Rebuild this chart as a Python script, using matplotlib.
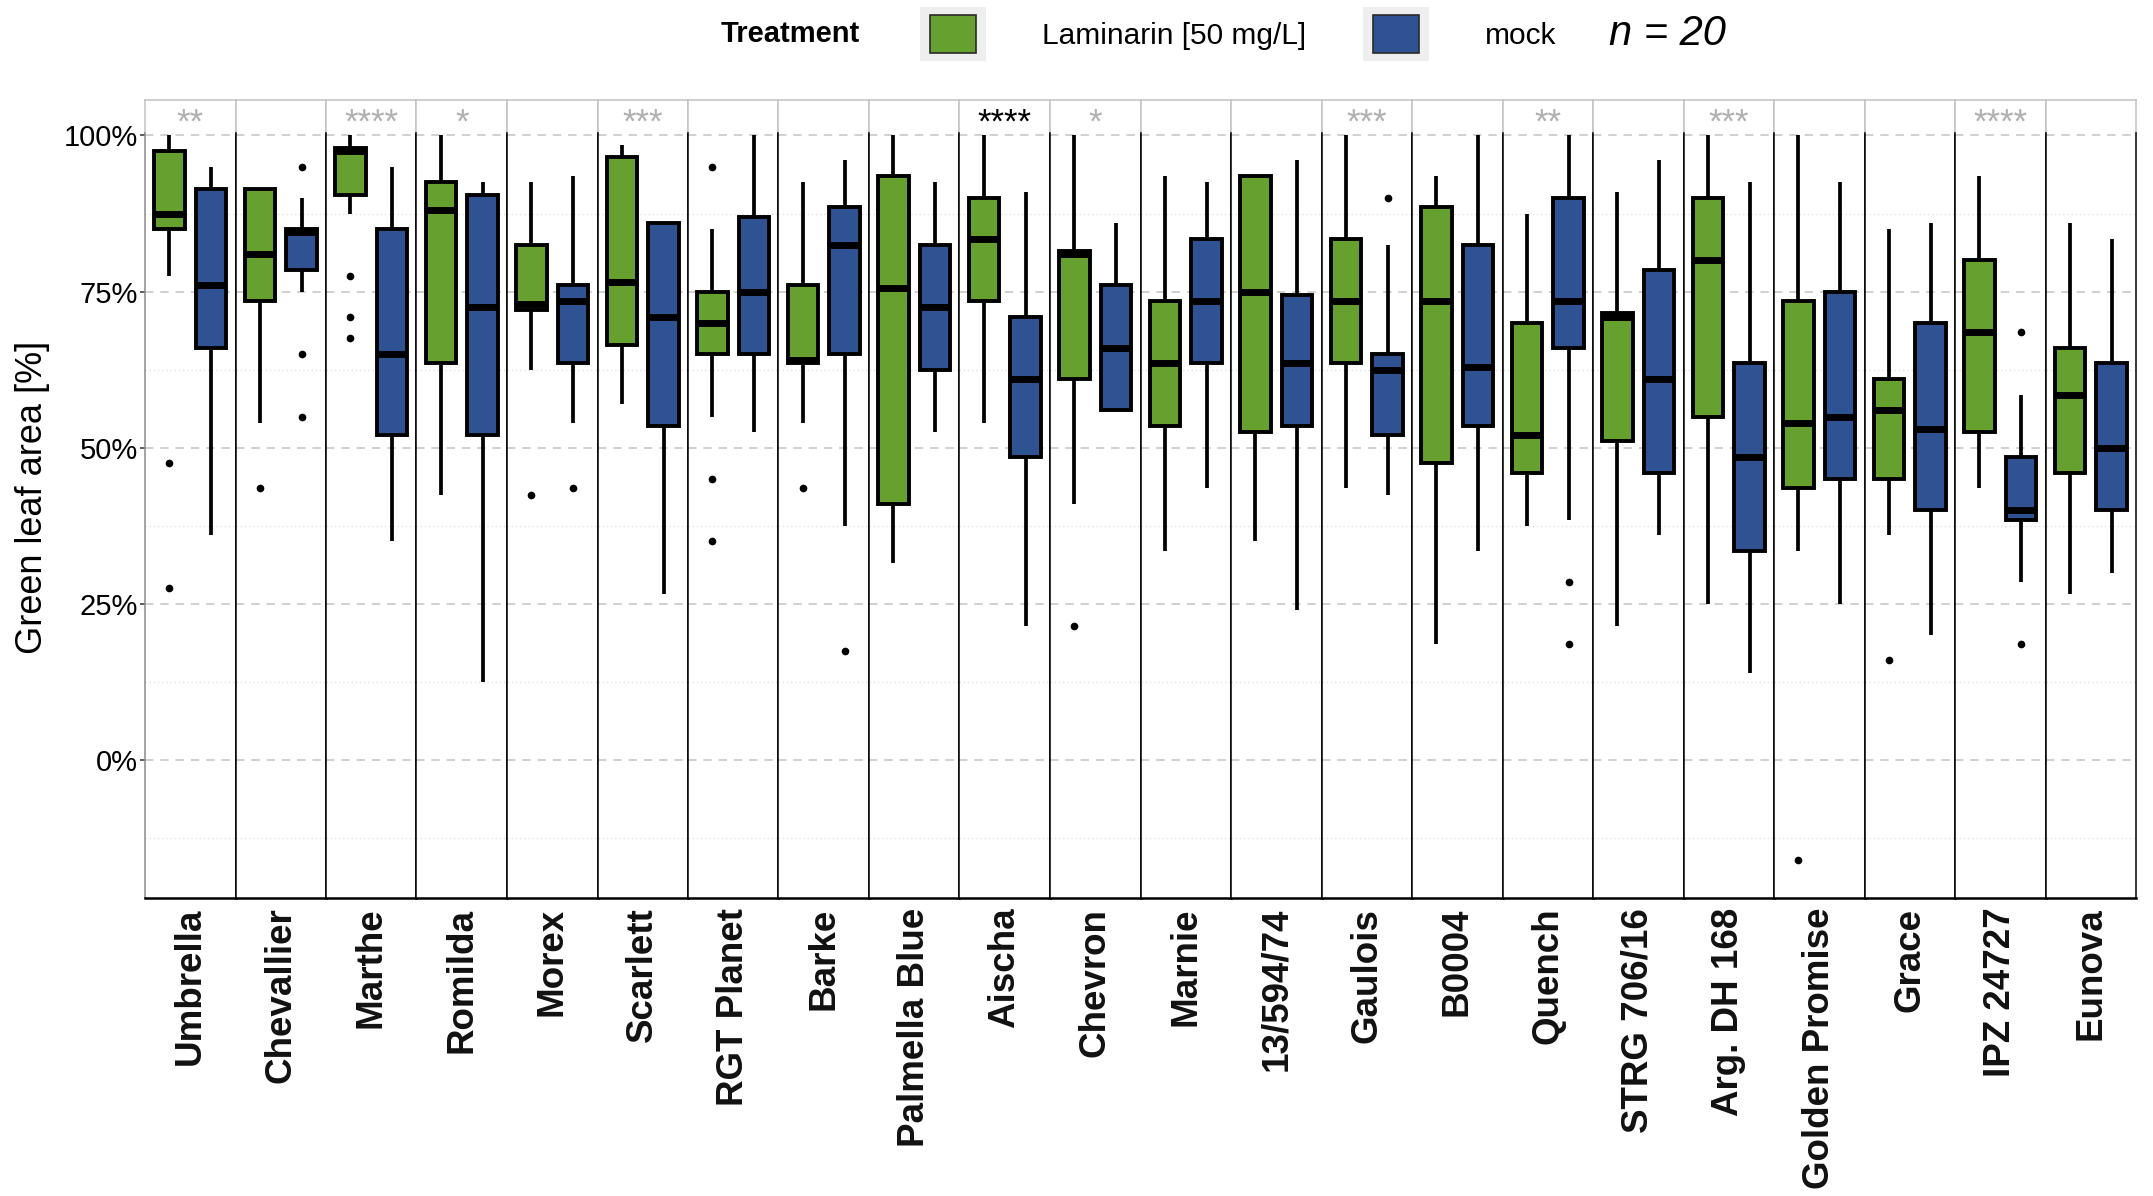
import matplotlib.pyplot as plt
from matplotlib.patches import Patch, Rectangle

plt.rcParams['font.family'] = ['Liberation Sans', 'DejaVu Sans']

cultivars = ['Umbrella', 'Chevallier', 'Marthe', 'Romilda', 'Morex', 'Scarlett',
             'RGT Planet', 'Barke', 'Palmella Blue', 'Aischa', 'Chevron', 'Marnie',
             '13/594/74', 'Gaulois', 'B0004', 'Quench', 'STRG 706/16', 'Arg. DH 168',
             'Golden Promise', 'Grace', 'IPZ 24727', 'Eunova']
signif = ['**', '', '****', '*', '', '***', '', '', '', '****', '*', '',
          '', '***', '', '**', '', '***', '', '', '****', '']
signif_strong = ['Aischa']

# Laminarin [50 mg/L]
lam_lo = [77.5, 54, 87.5, 42.5, 62.5, 57, 55, 54, 31.5, 54, 41, 33.5,
          35, 43.5, 18.5, 37.5, 21.5, 25, 33.5, 36, 43.5, 26.5]
lam_q1 = [85, 73.5, 90.5, 63.5, 72, 66.5, 65, 63.5, 41, 73.5, 61, 53.5,
          52.5, 63.5, 47.5, 46, 51, 55, 43.5, 45, 52.5, 46]
lam_med = [87.5, 81, 97.5, 88, 73, 76.5, 70, 64, 75.5, 83.5, 81, 63.5,
           75, 73.5, 73.5, 52, 71, 80, 54, 56, 68.5, 58.5]
lam_q3 = [97.5, 91.5, 98, 92.5, 82.5, 96.5, 75, 76, 93.5, 90, 81.5, 73.5,
          93.5, 83.5, 88.5, 70, 71.5, 90, 73.5, 61, 80, 66]
lam_hi = [100, 91.5, 100, 100, 92.5, 98.5, 85, 92.5, 100, 100, 100, 93.5,
          93.5, 100, 93.5, 87.5, 91, 100, 100, 85, 93.5, 86]
lam_out = [[47.5, 27.5], [43.5], [77.5, 71, 67.5], [], [42.5], [], [95, 45, 35],
           [43.5], [], [], [21.5], [], [], [], [], [], [], [], [-16], [16], [], []]

# mock
mock_lo = [36, 75, 35, 12.5, 54, 26.5, 52.5, 37.5, 52.5, 21.5, 56, 43.5,
           24, 42.5, 33.5, 38.5, 36, 14, 25, 20, 28.5, 30]
mock_q1 = [66, 78.5, 52, 52, 63.5, 53.5, 65, 65, 62.5, 48.5, 56, 63.5,
           53.5, 52, 53.5, 66, 46, 33.5, 45, 40, 38.5, 40]
mock_med = [76, 84.5, 65, 72.5, 73.5, 71, 75, 82.5, 72.5, 61, 66, 73.5,
            63.5, 62.5, 63, 73.5, 61, 48.5, 55, 53, 40, 50]
mock_q3 = [91.5, 85, 85, 90.5, 76, 86, 87, 88.5, 82.5, 71, 76, 83.5,
           74.5, 65, 82.5, 90, 78.5, 63.5, 75, 70, 48.5, 63.5]
mock_hi = [95, 90, 95, 92.5, 93.5, 86, 100, 96, 92.5, 91, 86, 92.5,
           96, 82.5, 100, 100, 96, 92.5, 92.5, 86, 58.5, 83.5]
mock_out = [[], [95, 65, 55], [], [], [43.5], [], [], [17.5], [], [], [], [],
            [], [90], [], [28.5, 18.5], [], [], [], [], [68.5, 18.5], []]

treatments = ['Laminarin [50 mg/L]', 'mock']
colors = ['#66A02E', '#2E5292']

W, H = 2153, 1196
fig = plt.figure(figsize=(W / 100, H / 100), dpi=100)
gs = fig.add_gridspec(2, len(cultivars), height_ratios=[33, 765],
                      left=145 / W, right=2136 / W, top=1 - 100 / H, bottom=1 - 898 / H,
                      hspace=0, wspace=0)

first = None
for i, name in enumerate(cultivars):
    strip = fig.add_subplot(gs[0, i])
    ax = fig.add_subplot(gs[1, i], sharey=first)
    if first is None:
        first = ax

    stats = [
        dict(med=lam_med[i], q1=lam_q1[i], q3=lam_q3[i],
             whislo=lam_lo[i], whishi=lam_hi[i], fliers=lam_out[i]),
        dict(med=mock_med[i], q1=mock_q1[i], q3=mock_q3[i],
             whislo=mock_lo[i], whishi=mock_hi[i], fliers=mock_out[i]),
    ]
    bp = ax.bxp(stats, positions=[0.27, 0.73], widths=0.34, patch_artist=True,
                showcaps=False, manage_ticks=False,
                boxprops=dict(linewidth=2.8, edgecolor='black', joinstyle='miter'),
                medianprops=dict(color='black', linewidth=5, solid_capstyle='butt'),
                whiskerprops=dict(color='black', linewidth=2.7, solid_capstyle='butt'),
                flierprops=dict(marker='o', markerfacecolor='black',
                                markeredgecolor='black', markersize=4.5))
    for box, c in zip(bp['boxes'], colors):
        box.set_facecolor(c)
        box.set_zorder(3)
    for m in bp['medians']:
        m.set_zorder(4)

    ax.set_xlim(0, 1)
    ax.set_ylim(-22.1, 100.4)
    ax.set_yticks([0, 25, 50, 75, 100])
    ax.set_yticks([-12.5, 12.5, 37.5, 62.5, 87.5], minor=True)
    ax.grid(axis='y', which='major', color='#c4c4c4', linewidth=1.1,
            linestyle=(0, (5.5, 4.5)), zorder=0)
    ax.grid(axis='y', which='minor', color='#e2e2e2', linewidth=1.0,
            linestyle=(0, (1, 2)), zorder=0)
    ax.set_axisbelow(True)

    ax.set_xticks([0.5])
    ax.set_xticklabels([name], rotation=90, fontsize=26.5, fontweight='bold',
                       va='top', ha='center', color='#111111')
    ax.tick_params(axis='x', length=0, pad=7)

    ax.spines['top'].set_visible(False)
    ax.spines['bottom'].set_linewidth(1.8)
    for side in ('left', 'right'):
        ax.spines[side].set_color('black')
        ax.spines[side].set_linewidth(1.1)

    if i == 0:
        ax.spines['left'].set_color('#8a8a8a')
        ax.set_yticklabels(['0%', '25%', '50%', '75%', '100%'])
        ax.tick_params(axis='y', which='major', length=3.6, width=1.1,
                       color='#333333', labelsize=21, pad=1.5)
        ax.tick_params(axis='y', which='minor', length=0)
    else:
        ax.tick_params(axis='y', which='both', left=False, labelleft=False)

    # facet strip holding the significance stars
    strip.set_xticks([])
    strip.set_yticks([])
    strip.set_facecolor('white')
    for side in ('left', 'right', 'top'):
        strip.spines[side].set_color('#c2c2c2')
        strip.spines[side].set_linewidth(1.1)
    strip.spines['bottom'].set_visible(False)
    star_color = 'black' if name in signif_strong else '#b0b0b0'
    strip.text(0.5, 0.0, signif[i], transform=strip.transAxes, ha='center',
               va='baseline', fontsize=25, color=star_color)

fig.text(33 / W, 1 - 497 / H, 'Green leaf area [%]', rotation=90,
         ha='center', va='center', fontsize=26)

# legend row
fig.text(721 / W, 1 - 34 / H, 'Treatment', ha='left', va='center',
         fontsize=21, fontweight='bold')
handles = [Patch(facecolor=c, edgecolor='#2a2a2a', linewidth=1.2) for c in colors]
leg = fig.legend(handles, treatments, loc='center left',
                 bbox_to_anchor=(930 / W, 1 - 34 / H), ncol=2, frameon=False,
                 fontsize=21.5, handlelength=1.54, handleheight=1.57,
                 handletextpad=2.2, columnspacing=2.25, borderpad=0,
                 borderaxespad=0)
fig.text(1609 / W, 1 - 34 / H, 'n = 20', ha='left', va='center',
         fontsize=30, fontstyle='italic')

# grey key backgrounds behind the legend swatches
fig.canvas.draw()
for h in leg.legend_handles:
    bb = h.get_window_extent().expanded(1.45, 1.42)
    bb = bb.transformed(fig.transFigure.inverted())
    fig.patches.append(Rectangle((bb.x0, bb.y0), bb.width, bb.height,
                                 transform=fig.transFigure, facecolor='#eeeeee',
                                 edgecolor='none', zorder=0))

fig.savefig('out.png', dpi=100, facecolor='white')
